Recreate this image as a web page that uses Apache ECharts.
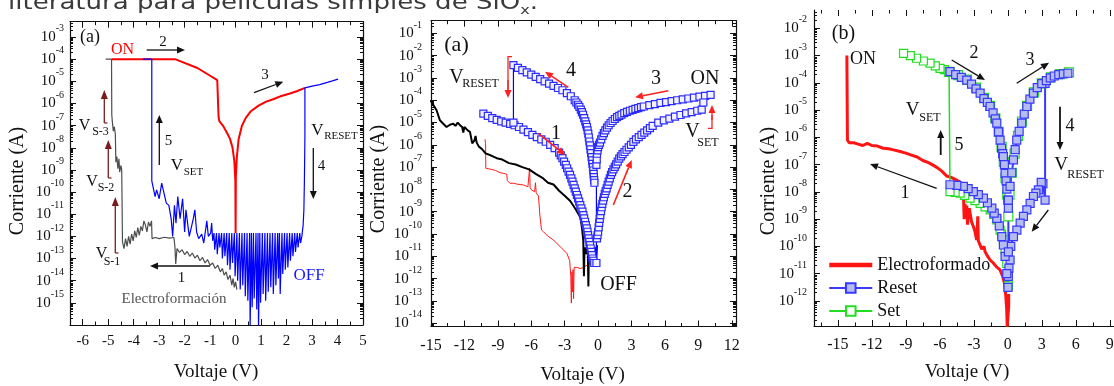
<!DOCTYPE html>
<html><head><meta charset="utf-8">
<script src="https://cdn.jsdelivr.net/npm/echarts@6/dist/echarts.min.js"></script>
<style>html,body{margin:0;padding:0;background:#fff;overflow:hidden}#c{width:1114px;height:386px}</style>
</head><body><div id="c"></div><script>
// ---------- DATA (voltage V, log10 of current in A) ----------
// Panel 1 (left)
const p1Forming = [[0.05,-14.4],[0.0,-14.05],[-0.05,-14.3],[-0.1,-13.9],[-0.15,-14.2],[-0.22,-13.75],[-0.3,-13.95],[-0.37,-13.6],[-0.45,-13.75],[-0.52,-13.45],[-0.6,-13.6],[-0.7,-13.3],[-0.8,-13.45],[-0.9,-13.2],[-1.0,-13.3],[-1.1,-13.05],[-1.2,-13.2],[-1.3,-12.95],[-1.4,-13.1],[-1.5,-12.85],[-1.6,-12.98],[-1.7,-12.75],[-1.8,-12.9],[-1.9,-12.68],[-2.0,-12.82],[-2.1,-12.6],[-2.2,-12.72],[-2.3,-12.55],[-2.35,-13.25],[-2.38,-12.5],[-2.42,-12.05],[-2.6,-12.08],[-2.8,-12.04],[-3.0,-12.1],[-3.15,-12.05],[-3.28,-12.1],[-3.3,-11.3],[-3.36,-11.55],[-3.42,-11.35],[-3.48,-11.8],[-3.55,-11.45],[-3.6,-11.3],[-3.66,-11.75],[-3.72,-11.55],[-3.78,-11.95],[-3.84,-11.6],[-3.9,-12.05],[-3.96,-11.75],[-4.02,-12.2],[-4.08,-11.9],[-4.14,-12.35],[-4.2,-12.0],[-4.26,-12.45],[-4.32,-12.1],[-4.38,-12.55],[-4.44,-12.25],[-4.47,-9.0],[-4.5,-8.8],[-4.55,-9.1],[-4.58,-8.5],[-4.62,-8.95],[-4.66,-8.4],[-4.7,-8.65],[-4.72,-7.4],[-4.76,-7.05],[-4.8,-7.25],[-4.84,-6.8],[-4.86,-6.5],[-4.87,-4.0],[-5.1,-4.0]];
const p1On = [[-4.86,-4.0],[-2.38,-4.0],[-1.5,-4.4],[-1.0,-4.75],[-0.72,-4.95],[-0.69,-5.0],[-0.67,-6.6],[-0.64,-6.8],[-0.5,-7.0],[-0.35,-7.3],[-0.22,-7.6],[-0.12,-8.0],[-0.05,-8.6],[-0.01,-9.5],[0,-11.85],[0.01,-9.3],[0.05,-8.4],[0.12,-7.6],[0.25,-7.0],[0.4,-6.65],[0.6,-6.35],[0.9,-6.1],[1.2,-5.92],[1.5,-5.8],[1.8,-5.66],[2.1,-5.56],[2.4,-5.45],[2.72,-5.3]];
const p1Cycle = [[-3.65,-4.0],[-3.29,-4.0],[-3.29,-9.5],[-3.25,-9.44],[-3.16,-10.2],[-3.1,-9.9],[-3.0,-10.3],[-2.9,-9.6],[-2.82,-10.0],[-2.72,-10.5],[-2.62,-10.6],[-2.53,-11.2],[-2.47,-12.0],[-2.4,-10.6],[-2.34,-11.4],[-2.27,-10.2],[-2.18,-11.2],[-2.08,-10.3],[-2.0,-11.8],[-1.95,-10.8],[-1.82,-12.0],[-1.72,-11.5],[-1.66,-11.2],[-1.6,-10.8],[-1.53,-11.8],[-1.45,-12.1],[-1.33,-11.9],[-1.25,-12.3],[-1.13,-11.3],[-1.07,-12.0],[-0.98,-11.85],[-0.94,-11.4],[-0.9,-12.2],
 [-0.85,-11.85],[-0.82,-12.6],[-0.75,-11.85],[-0.72,-12.8],[-0.65,-11.85],[-0.62,-12.5],[-0.55,-11.85],[-0.52,-13.0],[-0.45,-11.85],[-0.42,-12.9],[-0.35,-11.85],[-0.32,-13.3],[-0.25,-11.85],[-0.22,-13.5],[-0.15,-11.85],[-0.12,-13.2],[-0.05,-11.85],[-0.02,-13.8],[0.05,-11.85],[0.08,-14.0],[0.15,-11.85],[0.18,-14.4],[0.25,-11.85],[0.28,-14.2],[0.35,-11.85],[0.38,-14.7],[0.45,-11.85],[0.48,-14.9],[0.55,-11.85],[0.57,-16.2],[0.62,-11.85],[0.65,-15.2],[0.7,-11.85],[0.73,-14.8],[0.8,-11.85],[0.83,-15.3],[0.88,-11.85],[0.9,-16.2],[0.95,-11.85],[0.98,-15.0],[1.05,-11.85],[1.08,-14.6],[1.15,-11.85],[1.18,-14.9],[1.25,-11.85],[1.28,-14.5],[1.35,-11.85],[1.38,-14.3],[1.45,-11.85],[1.48,-14.6],[1.55,-11.85],[1.58,-14.2],[1.65,-11.85],[1.68,-13.9],[1.72,-11.85],[1.75,-14.6],[1.82,-11.85],[1.85,-13.7],[1.92,-11.85],[1.95,-13.5],[2.02,-11.85],[2.05,-13.4],[2.12,-11.85],[2.15,-13.1],[2.22,-11.85],[2.25,-12.9],[2.32,-11.85],[2.35,-12.7],[2.42,-11.85],[2.45,-12.5],[2.52,-11.85],[2.55,-12.3],[2.6,-12.0],[2.65,-11.5],[2.68,-10.8],[2.7,-9.5],[2.72,-7.5],[2.72,-5.3],[3.0,-5.22],[3.3,-5.15],[3.6,-5.05],[3.8,-4.98],[4.02,-4.9]];

// Panel 2 (middle)
const p2Black = [[-15.05,-4.0],[-14.8,-4.2],[-14.5,-4.45],[-14.2,-4.9],[-13.9,-5.05],[-13.6,-5.2],[-13.3,-5.1],[-13.0,-5.05],[-12.8,-5.15],[-12.6,-5.0],[-12.4,-5.12],[-12.2,-5.2],[-12.1,-5.45],[-12.0,-5.2],[-11.7,-5.35],[-11.5,-5.42],[-11.3,-5.93],[-11.1,-5.8],[-11.0,-5.6],[-10.9,-5.9],[-10.7,-6.08],[-10.4,-6.2],[-10.1,-6.38],[-9.6,-6.48],[-9.1,-6.6],[-8.6,-6.66],[-8.0,-6.82],[-7.4,-6.88],[-6.8,-7.0],[-6.2,-7.1],[-5.6,-7.3],[-5.0,-7.48],[-4.5,-7.7],[-4.0,-7.78],[-3.5,-8.06],[-3.0,-8.28],[-2.5,-8.52],[-2.0,-8.9],[-1.6,-9.25],[-1.45,-9.7],[-1.33,-10.3],[-1.27,-11.9],[-1.22,-10.6],[-1.1,-10.9],[-1.0,-10.5],[-0.92,-10.9],[-0.87,-12.35],[-0.83,-10.7],[-0.7,-11.0],[-0.6,-10.6],[-0.55,-11.2],[-0.45,-10.7],[-0.35,-11.3],[-0.25,-10.6],[-0.17,-11.2],[-0.1,-10.5]];
const p2Red = [[-10.15,-5.75],[-10.1,-5.95],[-10.08,-7.05],[-9.6,-7.1],[-9.2,-7.15],[-8.8,-7.25],[-8.5,-7.28],[-8.2,-7.32],[-8.15,-7.6],[-7.9,-7.73],[-7.6,-7.72],[-7.3,-7.76],[-7.0,-7.78],[-6.7,-7.8],[-6.3,-7.88],[-6.15,-7.05],[-6.1,-7.92],[-5.96,-8.03],[-5.7,-8.1],[-5.62,-7.7],[-5.56,-8.15],[-5.35,-8.3],[-5.22,-9.2],[-5.08,-9.82],[-4.9,-9.9],[-4.5,-10.1],[-4.0,-10.27],[-3.4,-10.57],[-2.8,-10.87],[-2.55,-11.2],[-2.45,-11.9],[-2.4,-13.1],[-2.35,-11.7],[-2.3,-12.6],[-2.25,-11.6],[-2.2,-12.9],[-2.15,-11.5],[-2.05,-11.45],[-1.9,-11.5],[-1.6,-11.55],[-1.3,-11.5],[-1.0,-11.4],[-0.7,-11.3],[-0.44,-11.24],[-0.2,-11.3]];
const p2Sweep1 = [[-10.3,-4.6],[-9.9,-4.7],[-9.5,-4.8],[-9.1,-4.88],[-8.7,-4.95],[-8.3,-5.0],[-7.9,-5.06],[-7.5,-5.12],[-7.1,-5.2],[-6.7,-5.32],[-6.3,-5.43],[-5.9,-5.55],[-5.5,-5.65],[-5.1,-5.75],[-4.7,-5.86],[-4.3,-6.0],[-3.9,-6.15],[-3.5,-6.35],[-3.35,-6.47],[-3.2,-6.6],[-3.05,-6.75],[-2.9,-6.9],[-2.78,-7.05],[-2.65,-7.2],[-2.52,-7.35],[-2.4,-7.5],[-2.3,-7.65],[-2.2,-7.8],[-2.1,-7.95],[-2.0,-8.1],[-1.9,-8.25],[-1.8,-8.4],[-1.7,-8.55],[-1.6,-8.7],[-1.5,-8.85],[-1.4,-9.0],[-1.32,-9.15],[-1.25,-9.3],[-1.17,-9.45],[-1.1,-9.6],[-1.02,-9.75],[-0.95,-9.9],[-0.9,-10.05],[-0.85,-10.2],[-0.78,-10.35],[-0.72,-10.5],[-0.66,-10.65],[-0.6,-10.8],[-0.55,-10.95],[-0.5,-11.1],[-0.42,-11.2],[-0.35,-11.3]];
const p2Sweep4 = [[-7.6,-5.0],[-7.6,-2.42],[-7.2,-2.55],[-6.8,-2.65],[-6.4,-2.75],[-6.0,-2.85],[-5.6,-2.95],[-5.2,-3.05],[-4.8,-3.15],[-4.4,-3.25],[-4.0,-3.35],[-3.6,-3.45],[-3.2,-3.55],[-2.8,-3.68],[-2.45,-3.82],[-2.1,-4.0],[-1.95,-4.1],[-1.8,-4.2],[-1.68,-4.3],[-1.55,-4.42],[-1.45,-4.53],[-1.35,-4.65],[-1.25,-4.8],[-1.15,-4.95],[-1.07,-5.08],[-1.0,-5.2],[-0.94,-5.35],[-0.88,-5.5],[-0.83,-5.67],[-0.78,-5.85],[-0.73,-6.02],[-0.68,-6.2],[-0.63,-6.37],[-0.58,-6.55],[-0.54,-6.7],[-0.5,-6.85],[-0.46,-7.0],[-0.43,-7.15],[-0.4,-7.3],[-0.38,-7.45],[-0.35,-7.58],[-0.33,-7.7]];
const p2Sweep3 = [[-0.15,-11.3],[-0.15,-6.9],[-0.12,-6.65],[-0.1,-6.4],[-0.05,-6.25],[0.0,-6.1],[0.08,-6.0],[0.17,-5.9],[0.28,-5.75],[0.4,-5.6],[0.52,-5.47],[0.65,-5.35],[0.8,-5.23],[0.95,-5.12],[1.12,-5.02],[1.3,-4.93],[1.5,-4.84],[1.7,-4.76],[1.9,-4.7],[2.1,-4.64],[2.35,-4.58],[2.6,-4.52],[2.85,-4.47],[3.1,-4.43],[3.35,-4.39],[3.6,-4.35],[3.85,-4.31],[4.1,-4.28],[4.6,-4.22],[5.1,-4.17],[5.6,-4.12],[6.1,-4.08],[6.6,-4.04],[7.1,-4.0],[7.6,-3.96],[8.1,-3.92],[8.6,-3.88],[9.1,-3.84],[9.6,-3.8],[10.1,-3.76]];
const p2Sweep2 = [[-0.1,-10.2],[-0.05,-10.05],[0.0,-9.9],[0.05,-9.7],[0.1,-9.5],[0.15,-9.32],[0.2,-9.15],[0.26,-8.97],[0.32,-8.8],[0.38,-8.65],[0.45,-8.5],[0.52,-8.35],[0.6,-8.2],[0.68,-8.07],[0.77,-7.95],[0.86,-7.8],[0.95,-7.65],[1.05,-7.5],[1.15,-7.35],[1.26,-7.22],[1.38,-7.1],[1.5,-6.99],[1.62,-6.88],[1.76,-6.75],[1.9,-6.62],[2.05,-6.52],[2.2,-6.42],[2.37,-6.32],[2.55,-6.22],[2.75,-6.11],[2.95,-6.0],[3.17,-5.87],[3.4,-5.75],[3.65,-5.65],[3.9,-5.55],[4.15,-5.45],[4.4,-5.35],[4.65,-5.25],[4.9,-5.15],[5.4,-5.0],[5.9,-4.9],[6.4,-4.82],[6.9,-4.73],[7.4,-4.66],[7.9,-4.59],[8.4,-4.53],[8.9,-4.47],[9.3,-4.42],[9.45,-4.1]];

// Panel 3 (right)
const p3Forming = [[0.08,-11.75],[0.08,-12.2],[-0.05,-12.95],[-0.1,-12.3],[-0.18,-11.8],[-0.3,-11.35],[-0.45,-11.1],[-0.7,-10.85],[-1.0,-10.75],[-1.3,-10.6],[-1.56,-10.5],[-1.8,-10.35],[-2.0,-10.2],[-2.1,-10.0],[-2.2,-10.05],[-2.3,-10.1],[-2.5,-9.9],[-2.6,-9.8],[-2.65,-8.9],[-2.7,-9.4],[-2.75,-9.76],[-2.9,-9.45],[-3.04,-9.27],[-3.2,-9.1],[-3.33,-9.03],[-3.4,-8.6],[-3.48,-8.7],[-3.55,-9.2],[-3.62,-8.5],[-3.7,-8.9],[-3.77,-8.45],[-3.85,-9.0],[-3.9,-8.3],[-3.95,-7.75],[-4.2,-7.65],[-4.6,-7.55],[-5.0,-7.47],[-5.4,-7.42],[-5.8,-7.25],[-6.2,-7.12],[-6.6,-7.02],[-7.0,-6.93],[-7.5,-6.85],[-8.0,-6.72],[-8.5,-6.65],[-9.0,-6.58],[-9.5,-6.52],[-10.0,-6.47],[-10.5,-6.42],[-11.0,-6.4],[-11.5,-6.32],[-12.0,-6.3],[-12.4,-6.22],[-12.8,-6.3],[-13.2,-6.25],[-13.6,-6.2],[-14.0,-6.2],[-14.15,-6.1],[-14.2,-3.0]];
const p3SetLow = [[0.05,-11.45],[0.0,-11.0],[-0.09,-10.62],[-0.24,-10.13],[-0.39,-9.76],[-0.55,-9.55],[-0.68,-9.4],[-0.97,-9.03],[-1.25,-8.83],[-1.56,-8.66],[-2.0,-8.55],[-2.44,-8.42],[-2.9,-8.32],[-3.33,-8.23],[-3.8,-8.13],[-4.2,-8.05],[-4.65,-8.02],[-5.1,-7.99],[-5.18,-3.62],[-5.24,-3.59],[-5.6,-3.52],[-5.98,-3.47],[-6.4,-3.38],[-6.86,-3.28],[-7.45,-3.2],[-8.05,-3.1],[-8.6,-3.0],[-9.2,-2.92]];
const p3SetHigh = [[-5.15,-3.6],[-4.4,-3.72],[-3.6,-3.88],[-2.8,-4.18],[-2.1,-4.55],[-1.56,-4.85],[-1.1,-5.3],[-0.8,-5.8],[-0.55,-6.35],[-0.35,-6.9],[-0.2,-7.5],[-0.05,-8.1],[0.05,-8.9],[0.15,-8.1],[0.35,-7.3],[0.6,-6.6],[0.9,-5.95],[1.25,-5.42],[1.7,-4.85],[2.3,-4.35],[3.0,-4.02],[3.8,-3.8],[4.6,-3.68],[5.4,-3.62]];
const p3ResetOn = [[-5.1,-3.59],[-4.6,-3.7],[-4.1,-3.8],[-3.62,-3.9],[-3.2,-4.05],[-2.8,-4.22],[-2.44,-4.38],[-2.1,-4.58],[-1.8,-4.72],[-1.56,-4.87],[-1.3,-5.1],[-1.1,-5.32],[-0.97,-5.48],[-0.82,-5.8],[-0.68,-6.1],[-0.55,-6.4],[-0.45,-6.6],[-0.39,-6.71],[-0.3,-7.0],[-0.24,-7.32],[-0.15,-7.6],[-0.08,-7.9],[0.0,-8.3],[0.05,-8.6],[0.05,-10.2]];
const p3ResetUp = [[0.05,-8.3],[0.2,-7.8],[0.35,-7.3],[0.5,-6.83],[0.65,-6.45],[0.79,-6.1],[1.0,-5.78],[1.23,-5.48],[1.45,-5.15],[1.68,-4.87],[1.95,-4.6],[2.26,-4.38],[2.6,-4.18],[3.0,-4.03],[3.4,-3.92],[3.75,-3.82],[4.1,-3.75],[4.5,-3.7],[4.9,-3.67],[5.3,-3.65]];
const p3ResetOff = [[3.29,-4.02],[3.29,-8.3],[3.1,-7.7],[2.95,-7.65],[2.7,-7.93],[2.48,-8.05],[2.26,-8.17],[1.97,-8.42],[1.68,-8.66],[1.38,-8.9],[1.09,-9.15],[0.8,-9.4],[0.5,-9.64],[0.26,-10.0],[0.2,-10.5],[0.1,-10.8],[0.05,-11.1],[0.02,-11.5],[-0.09,-11.0],[-0.24,-10.37],[-0.39,-9.95],[-0.53,-9.64],[-0.75,-9.25],[-0.97,-8.97],[-1.2,-8.78],[-1.41,-8.6],[-1.8,-8.4],[-2.15,-8.23],[-2.6,-8.1],[-3.04,-7.99],[-3.5,-7.88],[-3.92,-7.8],[-4.5,-7.76],[-5.1,-7.74]];

// tick label lists
const p1XLabels = [-6,-5,-4,-3,-2,-1,0,1,2,3,4,5];
const p1YLabels = [-15,-14,-13,-12,-11,-10,-9,-8,-7,-6,-5,-4,-3];
const p2XLabels = [-15,-12,-9,-6,-3,0,3,6,9,12];
const p2YLabels = [-14,-13,-12,-11,-10,-9,-8,-7,-6,-5,-4,-3,-2,-1];
const p3XLabels = [-15,-12,-9,-6,-3,0,3,6,9];
const p3YLabels = [-12,-11,-10,-9,-8,-7,-6,-5,-4,-3,-2];
const legendNames = ['Electroformado','Reset','Set'];
const headline = 'literatura para películas simples de SiO';

// ---------- CHART ----------
const SERIF = '"Liberation Serif","Times New Roman",serif';
const INK = '#111';
const xAxes = [], yAxes = [], grids = [];
function rng(a,b,s){const r=[];for(let i=0;a+i*s<=b+1e-9;i++)r.push(+(a+i*s).toFixed(4));return r;}
function logMinor(lo,hi){const r=[];for(let n=Math.floor(lo);n<Math.ceil(hi);n++)for(let k=2;k<=9;k++){const v=n+Math.log10(k);if(v>lo&&v<hi)r.push(v);}return r;}
function panel(c){
  const g = grids.length;
  grids.push({left:c.left,top:c.top,width:c.width,height:c.height,containLabel:false,outerBoundsMode:'none'});
  const line = {show:true,onZero:false,lineStyle:{color:INK,width:1.2}};
  const noLine = {show:false,onZero:false};
  const tk = (vals,len)=>({show:true,inside:true,length:len,customValues:vals,lineStyle:{color:INK,width:1}});
  const bx = {type:'value',gridIndex:g,min:c.xMin,max:c.xMax,splitLine:{show:false},axisLabel:{show:false},silent:true};
  const by = {type:'value',gridIndex:g,min:c.yMin,max:c.yMax,splitLine:{show:false},axisLabel:{show:false},silent:true};
  const xi = xAxes.length, yi = yAxes.length;
  xAxes.push({...bx,position:'bottom',axisLine:line,axisTick:tk(c.xMajor,6),
    axisLabel:{show:true,customValues:c.xLabels,showMinLabel:true,showMaxLabel:true,hideOverlap:false,margin:c.xMargin,fontSize:c.xFont,fontFamily:SERIF,color:INK,formatter:v=>String(v)}});
  xAxes.push({...bx,position:'bottom',axisLine:noLine,axisTick:tk(c.xMinor,3.5)});
  xAxes.push({...bx,position:'top',axisLine:c.topLine===false?noLine:line,axisTick:tk(c.xMajor,6)});
  xAxes.push({...bx,position:'top',axisLine:noLine,axisTick:tk(c.xMinor,3.5)});
  const ymin = logMinor(c.yMin,c.yMax);
  // base "10" labels (with an invisible exponent so that right edges line up)
  yAxes.push({...by,position:'left',axisLine:line,axisTick:tk(c.yMajor,6),
    axisLabel:{show:true,customValues:c.yLabels,showMinLabel:true,showMaxLabel:true,hideOverlap:false,margin:c.yMargin,
      fontFamily:SERIF,fontSize:15,color:INK,verticalAlign:'middle',formatter:v=>'{b|10}{h|'+v+'}',
      rich:{b:{fontSize:15,fontFamily:SERIF,color:INK,lineHeight:15},h:{fontSize:10,fontFamily:SERIF,color:'rgba(0,0,0,0)',lineHeight:10}}}});
  // exponent labels
  yAxes.push({...by,position:'left',axisLine:noLine,axisTick:{show:false},
    axisLabel:{show:true,customValues:c.yLabels,showMinLabel:true,showMaxLabel:true,hideOverlap:false,margin:c.yMargin,
      fontFamily:SERIF,fontSize:10,lineHeight:10,color:INK,verticalAlign:'bottom',padding:[0,0,3.5,0],formatter:v=>String(v)}});
  yAxes.push({...by,position:'left',axisLine:noLine,axisTick:tk(ymin,3)});
  yAxes.push({...by,position:'right',axisLine:line,axisTick:tk(c.yMajor,6)});
  yAxes.push({...by,position:'right',axisLine:noLine,axisTick:tk(ymin,3)});
  return {x:xi,y:yi};
}
const ax1 = panel({left:70,top:21.7,width:293,height:303.3,xMin:-6.5,xMax:5,yMin:-16,yMax:-2.31,
  xMajor:rng(-6,5,1),xMinor:rng(-6.5,4.5,1),xLabels:p1XLabels,xMargin:9,xFont:15,
  yMajor:rng(-15,-3,1),yLabels:p1YLabels,yMargin:6});
const ax2 = panel({left:431,top:20.7,width:305,height:305.8,xMin:-15,xMax:12.38,yMin:-14.15,yMax:-0.43,
  xMajor:rng(-15,12,3),xMinor:rng(-13.5,10.5,3),xLabels:p2XLabels,xMargin:11,xFont:16,
  yMajor:rng(-14,-1,1),yLabels:p2YLabels,yMargin:9});
const ax3 = panel({left:814,top:10,width:306,height:316,xMin:-17.1,xMax:9.9,yMin:-12.92,yMax:-1.33,
  xMajor:rng(-15,9,3),xMinor:rng(-16.5,7.5,3),xLabels:p3XLabels,xMargin:11,xFont:16,
  yMajor:rng(-12,-2,1),yLabels:p3YLabels,yMargin:7,topLine:false});

function ln(name,data,ax,color,width){
  return {type:'line',name,data,xAxisIndex:ax.x,yAxisIndex:ax.y,symbol:'none',
    lineStyle:{color,width},itemStyle:{color},animation:false,smooth:false,clip:true};
}
function sq(name,data,ax,lineColor,lw,fill,border,size){
  return {type:'line',name,data,xAxisIndex:ax.x,yAxisIndex:ax.y,symbol:'rect',symbolSize:size,showSymbol:true,
    lineStyle:{color:lineColor,width:lw},itemStyle:{color:fill,borderColor:border,borderWidth:1.2},animation:false,clip:true};
}
const series = [
  ln('p1a',p1Forming,ax1,'#4d4d4d',1.2),
  ln('p1b',p1On,ax1,'#ff0000',2),
  ln('p1c',p1Cycle,ax1,'#0000ff',1.2),
  ln('p2a',p2Red,ax2,'#ff1a1a',1),
  ln('p2b',p2Black,ax2,'#000000',2),
  sq('p2c',p2Sweep1,ax2,'#0000ff',1.2,'#f2f2ff','#2b2bff',7),
  sq('p2d',p2Sweep4,ax2,'#0000ff',1.2,'#f2f2ff','#2b2bff',7),
  sq('p2e',p2Sweep3,ax2,'#0000ff',1.2,'#f2f2ff','#2b2bff',7),
  sq('p2f',p2Sweep2,ax2,'#0000ff',1.2,'#f2f2ff','#2b2bff',7),
  ln('Electroformado',p3Forming,ax3,'#ff1414',3),
  sq('Set',p3SetLow,ax3,'#22dd22',1.5,'#ffffff','#22dd22',8),
  sq('Set',p3SetHigh,ax3,'#22dd22',1.5,'#ffffff','#22dd22',9),
  sq('Reset',p3ResetOff,ax3,'#3b3bff',2,'#b4bcf0','#3838ff',8),
  sq('Reset',p3ResetOn,ax3,'#3b3bff',2,'#b4bcf0','#3838ff',8),
  sq('Reset',p3ResetUp,ax3,'#3b3bff',2,'#b4bcf0','#3838ff',8)
];

// ---------- annotations ----------
function T(x,y,text,size,color,align,rot){
  return {type:'text',x,y,rotation:rot||0,z:50,silent:true,
    style:{text,x:0,y:0,font:size+'px '+SERIF,fill:color||INK,align:align||'center',verticalAlign:'middle',textAlign:align||'center',textVerticalAlign:'middle'}};
}
function L(x1,y1,x2,y2,color,w){return {type:'line',z:50,silent:true,shape:{x1,y1,x2,y2},style:{stroke:color||INK,lineWidth:w||1.3}};}
function A(x1,y1,x2,y2,color,w,hl,hw){
  color=color||INK; const ang=Math.atan2(y2-y1,x2-x1); const H=hl||8, W=hw||3.5;
  const bx=x2-H*Math.cos(ang), by=y2-H*Math.sin(ang); const px=-Math.sin(ang)*W, py=Math.cos(ang)*W;
  return [L(x1,y1,bx,by,color,w||1.3),{type:'polygon',z:50,silent:true,shape:{points:[[x2,y2],[bx+px,by+py],[bx-px,by-py]]},style:{fill:color}}];
}
const RED='#ff2020', DRED='#7a1c1c', BLUE='#1a1aff';
const g = [];
// headline (cut at top of image)
(function(){
  const cv=document.createElement('canvas').getContext('2d');
  cv.font='21px "DejaVu Sans"'; const w1=cv.measureText(headline).width, w3=cv.measureText('.').width;
  cv.font='13px "DejaVu Sans"'; const w2=cv.measureText('x').width;
  const sx=(538-8)/(w1+w2+w3);
  const st=(t,f,x,y)=>({type:'text',x,y,silent:true,style:{text:t,x:0,y:0,font:f,fill:'#3a3a3a',align:'left',verticalAlign:'middle',textAlign:'left',textVerticalAlign:'middle'}});
  g.push({type:'group',x:8,y:0,scaleX:sx,children:[st(headline,'21px "DejaVu Sans"',0,3.5),st('x','13px "DejaVu Sans"',w1,10.5),st('.','21px "DejaVu Sans"',w1+w2,3.5)]});
})();
// axis titles
g.push(T(18,181,'Corriente (A)',20,INK,'center',Math.PI/2));
g.push(T(379,179,'Corriente (A)',20,INK,'center',Math.PI/2));
g.push(T(768.5,181,'Corriente (A)',20,INK,'center',Math.PI/2));
g.push(T(216,372,'Voltaje (V)',19,INK));
g.push(T(582.5,375.5,'Voltaje (V)',19,INK));
g.push(T(967,372,'Voltaje (V)',19,INK));
// panel 1
g.push(T(90,37.5,'(a)',18));
g.push(T(122.5,50,'ON',16,'#ff0000'));
g.push(...A(146.7,50,185,50)); g.push(T(163,42,'2',15));
g.push(...A(254,92.7,283.3,81.7)); g.push(T(265,75,'3',15));
g.push(T(317.5,131,'V',17)); g.push(T(341,136,'RESET',11));
g.push(...A(313.3,148,313.3,199)); g.push(T(321.5,166,'4',15));
g.push(...A(159.3,165,159.3,115)); g.push(T(168.5,141,'5',15));
g.push(T(177,166,'V',17)); g.push(T(193.5,172,'SET',11));
g.push(T(84.5,126,'V',16)); g.push(T(100.5,132,'S-3',12));
g.push(T(92,182,'V',16)); g.push(T(106,188,'S-2',12));
g.push(T(101.5,254,'V',16)); g.push(T(112,262,'S-1',12));
g.push(...A(104.3,123,104.3,90,DRED,1.3,9,3.5)); g.push(L(104.3,123,107.5,123,DRED,1.2));
g.push(...A(108.3,178,108.3,140,DRED,1.3,9,3.5)); g.push(L(108.3,178,111.5,178,DRED,1.2));
g.push(...A(115.3,253,115.3,197,DRED,1.3,9,3.5)); g.push(L(115.3,253,118.5,253,DRED,1.2));
g.push(...A(210,266,150,266)); g.push(T(181.5,278,'1',15));
g.push(T(174,299,'Electroformación',15,'#555555'));
g.push(T(309,276,'OFF',17,BLUE));
// panel 2
g.push(T(456.5,45,'(a)',22));
g.push(T(456.5,78,'V',20)); g.push(T(480.5,84,'RESET',12));
g.push({type:'polyline',z:50,silent:true,shape:{points:[[512,56.7],[508,56.7],[508,90]]},style:{stroke:RED,lineWidth:1.3,fill:null}});
g.push(...A(508,80,508,98,RED));
g.push(T(571,71,'4',20)); g.push(...A(568.3,87.3,545,71.7,RED,1.6));
g.push(T(656,79,'3',20)); g.push(...A(668.3,90.7,635,97.3,RED,1.6));
g.push(T(705,79,'ON',20));
g.push(T(692.5,132,'V',20)); g.push(T(708,142.5,'SET',12));
g.push({type:'polyline',z:50,silent:true,shape:{points:[[708,128.3],[712,128.3],[712,115]]},style:{stroke:RED,lineWidth:1.3,fill:null}});
g.push(...A(712,120,712,105,RED));
g.push(T(556,134,'1',20)); g.push(...A(538.3,133.3,565,155,RED,1.6));
g.push(T(627.5,191.5,'2',20)); g.push(...A(613.3,205,631.7,160,RED,1.6));
g.push(T(618.5,285,'OFF',20));
// panel 3
g.push(T(843.5,33.5,'(b)',20));
g.push(T(850,59,'ON',18,INK,'left'));
g.push(T(974,53,'2',18)); g.push(...A(951.7,60,985,80));
g.push(T(1030,60,'3',18)); g.push(...A(1016.7,83.3,1049,62.7));
g.push(T(912.5,110,'V',19)); g.push(T(930,117.5,'SET',12));
g.push(...A(940.7,155,940.7,130,INK,1.8));
g.push(T(959,145,'5',18));
g.push(T(1070,126,'4',18)); g.push(...A(1060,106.7,1060,150,INK,1.8));
g.push(T(1061,165.5,'V',19)); g.push(T(1085.5,175,'RESET',12));
g.push(T(905,193.3,'1',18)); g.push(...A(936.7,188.3,870,164));
g.push(...A(1048.3,210,1031.7,231.7));

const chart = echarts.init(document.getElementById('c'),null,{renderer:'canvas'});
chart.setOption({
  animation:false,
  backgroundColor:'#ffffff',
  grid:grids, xAxis:xAxes, yAxis:yAxes, series,
  legend:{data:[{name:legendNames[0],itemStyle:{opacity:0},lineStyle:{width:4.5}},{name:legendNames[1]},{name:legendNames[2]}],
    orient:'vertical',left:822,top:251,itemWidth:43,itemHeight:12,itemGap:5,
    textStyle:{fontSize:18,fontFamily:SERIF,color:INK},selectedMode:false},
  graphic:{elements:g}
});
</script></body></html>
